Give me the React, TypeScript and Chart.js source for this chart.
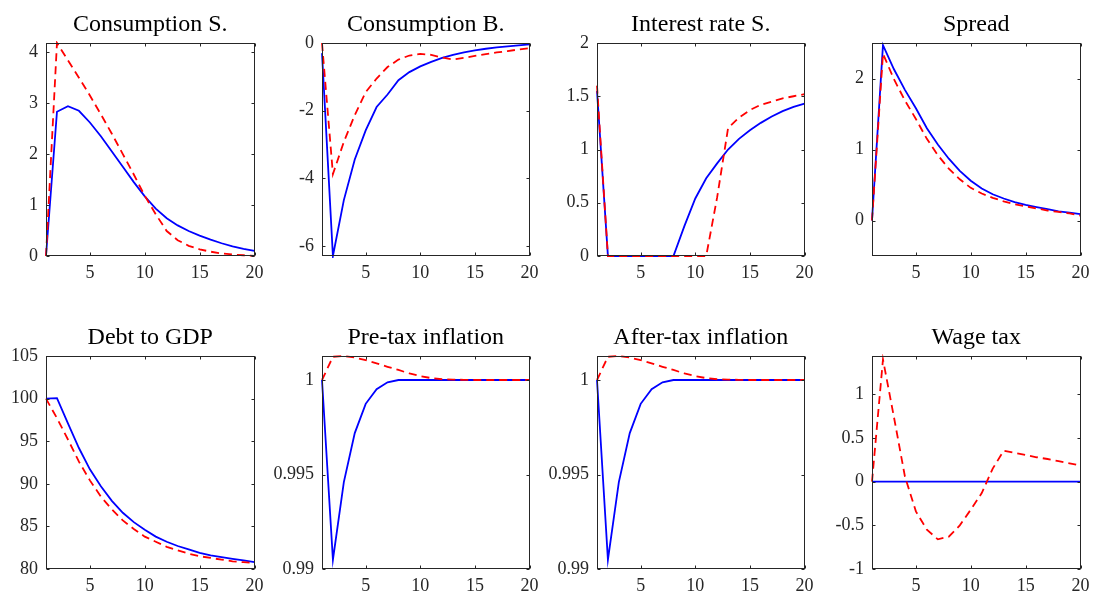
import { useEffect, useRef } from "react";
import { Chart, registerables } from "chart.js";

Chart.register(...registerables);

// Horizon (quarters after the shock)
const periods = [1, 2, 3, 4, 5, 6, 7, 8, 9, 10, 11, 12, 13, 14, 15, 16, 17, 18, 19, 20];
const xTickValues = [5, 10, 15, 20];

// Consumption of savers
const consSSolid = [0, 2.83, 2.94, 2.85, 2.62, 2.35, 2.05, 1.75, 1.45, 1.17, 0.93, 0.74, 0.6, 0.49, 0.4, 0.32, 0.25, 0.19, 0.14, 0.1];
const consSDashed = [0, 4.18, 3.84, 3.5, 3.15, 2.78, 2.4, 2.0, 1.6, 1.18, 0.82, 0.49, 0.31, 0.2, 0.13, 0.085, 0.05, 0.03, 0.015, 0];
const consSTicks = [0, 1, 2, 3, 4];

// Consumption of borrowers
const consBSolid = [-0.3, -6.29, -4.64, -3.44, -2.58, -1.89, -1.52, -1.1, -0.86, -0.69, -0.56, -0.44, -0.35, -0.28, -0.22, -0.17, -0.13, -0.1, -0.07, -0.04];
const consBDashed = [0, -3.87, -2.92, -2.13, -1.45, -1.05, -0.71, -0.49, -0.37, -0.32, -0.35, -0.43, -0.49, -0.44, -0.38, -0.33, -0.28, -0.24, -0.19, -0.15];
const consBTicks = [-6, -4, -2, 0];

// Savers' interest rate
const rateSSolid = [1.55, 0, 0, 0, 0, 0, 0, 0, 0.28, 0.54, 0.73, 0.87, 1.0, 1.1, 1.18, 1.25, 1.31, 1.36, 1.4, 1.43];
const rateSDashed = [1.6, 0, 0, 0, 0, 0, 0, 0, 0, 0, 0, 0.55, 1.2, 1.3, 1.37, 1.42, 1.45, 1.48, 1.5, 1.52];
const rateSTicks = [0, 0.5, 1, 1.5, 2];

// Spread
const spreadSolid = [0, 2.47, 2.13, 1.84, 1.58, 1.3, 1.07, 0.87, 0.7, 0.56, 0.45, 0.37, 0.31, 0.26, 0.22, 0.19, 0.16, 0.13, 0.11, 0.09];
const spreadDashed = [0, 2.35, 1.99, 1.69, 1.43, 1.15, 0.92, 0.73, 0.58, 0.46, 0.38, 0.32, 0.27, 0.23, 0.2, 0.17, 0.14, 0.12, 0.1, 0.07];
const spreadTicks = [0, 1, 2];

// Debt to GDP
const debtSolid = [100, 100.05, 97.1, 94.2, 91.7, 89.7, 88.0, 86.6, 85.5, 84.6, 83.8, 83.2, 82.7, 82.3, 81.9, 81.6, 81.4, 81.2, 81.0, 80.8];
const debtDashed = [100, 97.7, 95.2, 92.6, 90.4, 88.5, 87.0, 85.7, 84.7, 83.8, 83.2, 82.6, 82.2, 81.8, 81.5, 81.3, 81.1, 80.9, 80.8, 80.7];
const debtTicks = [80, 85, 90, 95, 100, 105];

// Pre-tax inflation (gross)
const preInflSolid = [1, 0.99049, 0.9946, 0.99719, 0.99874, 0.99951, 0.99988, 1, 1, 1, 1, 1, 1, 1, 1, 1, 1, 1, 1, 1];
const preInflDashed = [1, 1.00123, 1.00127, 1.00119, 1.00105, 1.00088, 1.0007, 1.00053, 1.00035, 1.00021, 1.0001, 1.00004, 1.00002, 1.00001, 1, 1, 1, 1, 1, 1];

// After-tax inflation (gross)
const postInflSolid = [1, 0.99049, 0.9946, 0.99719, 0.99874, 0.99951, 0.99988, 1, 1, 1, 1, 1, 1, 1, 1, 1, 1, 1, 1, 1];
const postInflDashed = [1, 1.00123, 1.00127, 1.00119, 1.00105, 1.00088, 1.0007, 1.00053, 1.00035, 1.00021, 1.0001, 1.00004, 1.00002, 1.00001, 1, 1, 1, 1, 1, 1];
const inflTicks = [0.99, 0.995, 1];

// Wage tax
const wageTaxSolid = [0, 0, 0, 0, 0, 0, 0, 0, 0, 0, 0, 0, 0, 0, 0, 0, 0, 0, 0, 0];
const wageTaxDashed = [0, 1.4, 0.74, 0.06, -0.34, -0.55, -0.66, -0.63, -0.5, -0.32, -0.13, 0.15, 0.355, 0.33, 0.305, 0.28, 0.26, 0.235, 0.21, 0.185];
const wageTaxTicks = [-1, -0.5, 0, 0.5, 1];

type PanelSpec = {
  title: string;
  solid: number[];
  dashed: number[];
  yTicks: number[];
  yMin: number;
  yMax: number;
};

const panels: PanelSpec[] = [
  { title: "Consumption S.", solid: consSSolid, dashed: consSDashed, yTicks: consSTicks, yMin: 0, yMax: 4.18 },
  { title: "Consumption B.", solid: consBSolid, dashed: consBDashed, yTicks: consBTicks, yMin: -6.29, yMax: 0 },
  { title: "Interest rate S.", solid: rateSSolid, dashed: rateSDashed, yTicks: rateSTicks, yMin: 0, yMax: 2 },
  { title: "Spread", solid: spreadSolid, dashed: spreadDashed, yTicks: spreadTicks, yMin: -0.5, yMax: 2.5 },
  { title: "Debt to GDP", solid: debtSolid, dashed: debtDashed, yTicks: debtTicks, yMin: 80, yMax: 105 },
  { title: "Pre-tax inflation", solid: preInflSolid, dashed: preInflDashed, yTicks: inflTicks, yMin: 0.99, yMax: 1.00127 },
  { title: "After-tax inflation", solid: postInflSolid, dashed: postInflDashed, yTicks: inflTicks, yMin: 0.99, yMax: 1.00127 },
  { title: "Wage tax", solid: wageTaxSolid, dashed: wageTaxDashed, yTicks: wageTaxTicks, yMin: -1, yMax: 1.44 },
];

// Figure grid geometry (page pixels)
const plotLefts = [46, 322, 597, 872];
const plotWidths = [210, 209, 209, 210];
const yAxisWidths = [46, 56, 56, 56];
const rowTops = [0, 300];
const rowHeights = [300, 295];
const plotTops = [43, 356];
const plotBottoms = [256, 569];
const X_AXIS_H = 26;
const RIGHT_PAD = 14;

const FONT_FAMILY = '"Liberation Serif", "Times New Roman", serif';
const AXIS_COLOR = "#262626";

const toPoints = (vals: number[]) => periods.map((p, i) => ({ x: p, y: vals[i] }));

// Draws the MATLAB-style box with inward ticks on all four sides and the title.
const framePlugin = {
  id: "frame",
  afterDraw(chart: any, _args: any, opts: any) {
    const { ctx, chartArea: a, scales } = chart;
    const L = Math.round(a.left) + 0.5;
    const R = Math.round(a.right) - 0.5;
    const T = Math.round(a.top) + 0.5;
    const B = Math.round(a.bottom) - 0.5;
    const tl = 3;
    ctx.save();
    ctx.strokeStyle = AXIS_COLOR;
    ctx.lineWidth = 1;
    ctx.beginPath();
    for (const t of scales.x.ticks) {
      const px = Math.round(scales.x.getPixelForValue(t.value)) + 0.5;
      ctx.moveTo(px, B);
      ctx.lineTo(px, B - tl);
      ctx.moveTo(px, T);
      ctx.lineTo(px, T + tl);
    }
    for (const t of scales.y.ticks) {
      const py = Math.round(scales.y.getPixelForValue(t.value)) + 0.5;
      ctx.moveTo(L, py);
      ctx.lineTo(L + tl, py);
      ctx.moveTo(R, py);
      ctx.lineTo(R - tl, py);
    }
    ctx.stroke();
    ctx.strokeRect(L, T, R - L, B - T);
    ctx.fillStyle = "#000";
    ctx.font = `24px ${FONT_FAMILY}`;
    ctx.textAlign = "center";
    ctx.textBaseline = "alphabetic";
    ctx.fillText(opts.text, (a.left + a.right) / 2, a.top - 12);
    ctx.restore();
  },
};

function Panel({ spec, index }: { spec: PanelSpec; index: number }) {
  const ref = useRef<HTMLCanvasElement>(null);
  const col = index % 4;
  const row = Math.floor(index / 4);
  const yAxisW = yAxisWidths[col];
  const left = plotLefts[col] - yAxisW;
  const top = rowTops[row];
  const width = yAxisW + plotWidths[col] + RIGHT_PAD;
  const height = rowHeights[row];
  const padTop = plotTops[row] - top;
  const padBottom = height - (plotBottoms[row] - top) - X_AXIS_H;

  useEffect(() => {
    if (!ref.current) return;
    const tickFont = { family: FONT_FAMILY, size: 18 };
    const chart = new Chart(ref.current, {
      type: "line",
      data: {
        datasets: [
          {
            data: toPoints(spec.solid),
            borderColor: "#0000ff",
            borderWidth: 1.8,
            pointRadius: 0,
            tension: 0,
            fill: false,
            clip: 2,
            order: 1,
          },
          {
            data: toPoints(spec.dashed),
            borderColor: "#ff0000",
            borderWidth: 1.8,
            borderDash: [8, 5],
            pointRadius: 0,
            tension: 0,
            fill: false,
            clip: 2,
            order: 0,
          },
        ],
      },
      options: {
        animation: false,
        responsive: false,
        events: [],
        layout: { padding: { top: padTop, right: RIGHT_PAD, bottom: padBottom, left: 0 } },
        plugins: {
          legend: { display: false },
          tooltip: { enabled: false },
          title: { display: false },
          frame: { text: spec.title },
        } as any,
        scales: {
          x: {
            type: "linear",
            min: 1,
            max: 20,
            grid: { display: false, drawTicks: false },
            border: { display: false },
            ticks: {
              font: tickFont,
              color: AXIS_COLOR,
              padding: 6.5,
              maxRotation: 0,
              autoSkip: false,
              callback: (v: any) => String(v),
            },
            afterBuildTicks: (s: any) => {
              s.ticks = xTickValues.map((v) => ({ value: v }));
            },
            afterFit: (s: any) => {
              s.height = X_AXIS_H;
            },
          },
          y: {
            type: "linear",
            min: spec.yMin,
            max: spec.yMax,
            grid: { display: false, drawTicks: false },
            border: { display: false },
            ticks: {
              font: tickFont,
              color: AXIS_COLOR,
              padding: 8,
              autoSkip: false,
              callback: (v: any) => String(v),
            },
            afterBuildTicks: (s: any) => {
              s.ticks = spec.yTicks.map((v) => ({ value: v }));
            },
            afterFit: (s: any) => {
              s.width = yAxisW;
            },
          },
        },
      } as any,
      plugins: [framePlugin],
    });
    return () => chart.destroy();
  }, [spec]);

  return (
    <canvas
      ref={ref}
      width={width}
      height={height}
      style={{ position: "absolute", left, top, width, height }}
    />
  );
}

export default function App() {
  return (
    <div style={{ position: "absolute", left: 0, top: 0, width: 1095, height: 595, background: "#fff" }}>
      {panels.map((p, i) => (
        <Panel key={p.title} spec={p} index={i} />
      ))}
    </div>
  );
}
